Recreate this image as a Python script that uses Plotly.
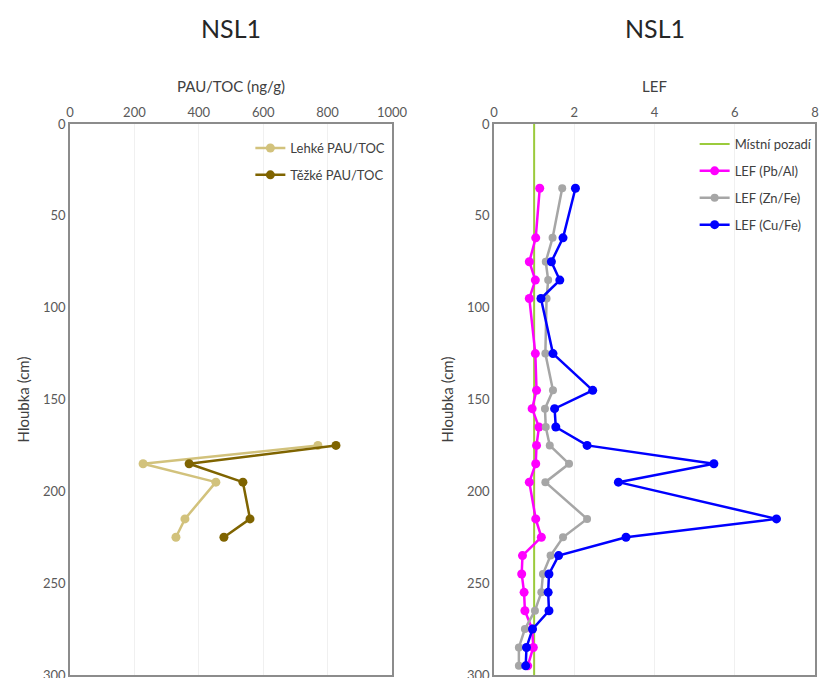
import plotly.graph_objects as go

# Depth profile NSL1: PAH/TOC (left) and local enrichment factors (right)
depth_pau = [175, 185, 195, 215, 225]
light_pau = [770, 227, 453, 357, 329]
heavy_pau = [826, 370, 537, 559, 478]

depth_lef = [35, 62, 75, 85, 95, 125, 145, 155, 165, 175, 185, 195, 215, 225,
             235, 245, 255, 265, 275, 285, 295]
lef_pb_al = [1.14, 1.04, 0.88, 1.03, 0.88, 1.03, 1.06, 0.95, 1.12, 1.06, 1.04,
             0.88, 1.04, 1.18, 0.71, 0.69, 0.75, 0.77, 0.95, 0.98, 0.84]
lef_zn_fe = [1.70, 1.46, 1.29, 1.35, 1.31, 1.28, 1.47, 1.27, 1.29, 1.39, 1.87,
             1.28, 2.32, 1.72, 1.41, 1.22, 1.18, 1.02, 0.77, 0.62, 0.62]
lef_cu_fe = [2.03, 1.72, 1.43, 1.64, 1.17, 1.47, 2.46, 1.51, 1.54, 2.32, 5.48,
             3.10, 7.04, 3.29, 1.61, 1.37, 1.35, 1.37, 0.96, 0.81, 0.79]

background_x = [1, 1]
background_depth = [0, 300]

pau_ticks = [0, 200, 400, 600, 800, 1000]
lef_ticks = [0, 2, 4, 6, 8]
depth_ticks = [0, 50, 100, 150, 200, 250, 300]

FONT = "Lato"
TICK_COLOR = "#595959"

fig = go.Figure()


def add_series(x, y, name, color, axis, legend, marker_size=9, lines_only=False):
    n = "" if axis == 1 else str(axis)
    fig.add_trace(go.Scatter(
        x=x, y=y, name=name, legendgroup=name,
        mode="lines" if lines_only else "lines+markers",
        xaxis="x" + n, yaxis="y" + n,
        line=dict(color=color, width=2 if lines_only else 2.5),
        marker=dict(color=color, size=marker_size),
        legend=legend,
    ))


add_series(light_pau, depth_pau, "Lehké PAU/TOC", "#D2C27C", 1, "legend")
add_series(heavy_pau, depth_pau, "Těžké PAU/TOC", "#7F6400", 1, "legend")

add_series(background_x, background_depth, "Místní pozadí", "#9BCB3C", 2, "legend2",
           lines_only=True)
add_series(lef_pb_al, depth_lef, "LEF (Pb/Al)", "#FF00FF", 2, "legend2")
add_series(lef_zn_fe, depth_lef, "LEF (Zn/Fe)", "#A6A6A6", 2, "legend2", marker_size=8)
add_series(lef_cu_fe, depth_lef, "LEF (Cu/Fe)", "#0000FF", 2, "legend2")

W, H = 819, 678
x1 = [70 / W, 392 / W]
x2 = [494 / W, 815 / W]
ydom = [1 - 675 / H, 1 - 124 / H]

xaxis_common = dict(side="top", showline=True, mirror=True, linecolor="#8C8C8C",
                    linewidth=1.5, showgrid=True, gridcolor="#F0F0F0", zeroline=False,
                    ticks="", automargin=False, ticklabeloverflow="allow",
                    tickmode="array",
                    tickfont=dict(size=13, color=TICK_COLOR, family=FONT),
                    title_font=dict(size=15, color="#404040", family=FONT),
                    title_standoff=8)
yaxis_common = dict(range=[300, 0], tickmode="array", tickvals=depth_ticks,
                    showline=True, mirror=True,
                    linecolor="#8C8C8C", linewidth=1.5, showgrid=False, zeroline=False,
                    ticks="", automargin=False, ticklabeloverflow="allow",
                    tickfont=dict(size=13, color=TICK_COLOR, family=FONT),
                    title=dict(text="Hloubka (cm)", standoff=10,
                               font=dict(size=15, color="#404040", family=FONT)))

legend_common = dict(xanchor="right", yanchor="top", bgcolor="rgba(255,255,255,0)",
                     font=dict(size=13, family=FONT, color="#404040"),
                     itemwidth=30)

fig.update_layout(
    width=W, height=H,
    margin=dict(l=0, r=0, t=0, b=0, autoexpand=False),
    plot_bgcolor="white", paper_bgcolor="white",
    font=dict(family=FONT, color="#404040"),
    xaxis=dict(domain=x1, range=[0, 1000], tickvals=pau_ticks, anchor="y",
               title=dict(text="PAU/TOC (ng/g)"), **xaxis_common),
    yaxis=dict(domain=ydom, anchor="x", **yaxis_common),
    xaxis2=dict(domain=x2, range=[0, 8], tickvals=lef_ticks, anchor="y2",
                title=dict(text="LEF"), **xaxis_common),
    yaxis2=dict(domain=ydom, anchor="x2", **yaxis_common),
    legend=dict(x=392 / W - 0.002, y=1 - 133 / H, tracegroupgap=7, **legend_common),
    legend2=dict(x=816 / W + 0.002, y=1 - 129 / H, tracegroupgap=7, **legend_common),
    showlegend=True,
    annotations=[
        dict(text="NSL1", x=(x1[0] + x1[1]) / 2, y=1 - 28 / H, xref="paper", yref="paper",
             showarrow=False, font=dict(size=25, family=FONT, color="#262626"),
             xanchor="center", yanchor="middle"),
        dict(text="NSL1", x=(x2[0] + x2[1]) / 2, y=1 - 28 / H, xref="paper", yref="paper",
             showarrow=False, font=dict(size=25, family=FONT, color="#262626"),
             xanchor="center", yanchor="middle"),
    ],
)

fig.write_html("out.html")
